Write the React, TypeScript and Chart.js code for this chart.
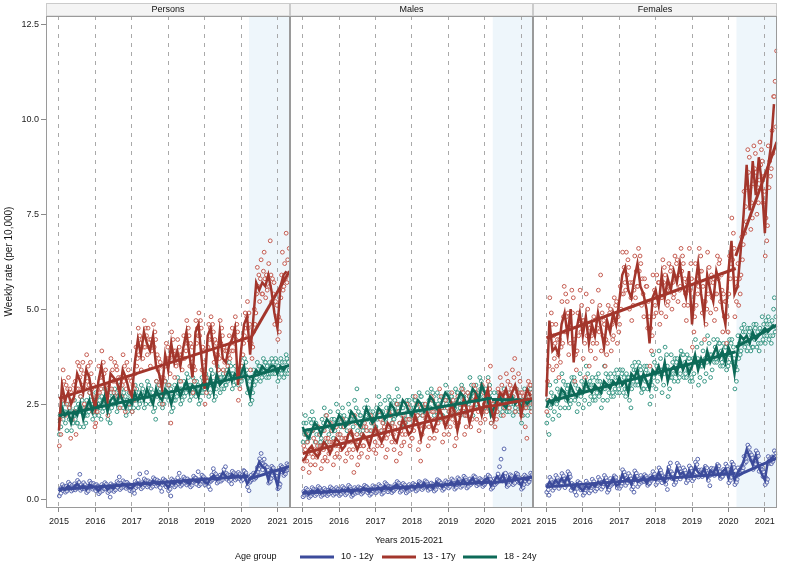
import React, { useEffect, useRef } from "react";
import { Chart, registerables } from "chart.js";

Chart.register(...registerables);
Chart.defaults.font.family = "'Liberation Sans', Arial, sans-serif";

const panelNames = ["Persons", "Males", "Females"];
const ageGroups = ["10 - 12y", "13 - 17y", "18 - 24y"];
const xTickYears = [2015, 2016, 2017, 2018, 2019, 2020, 2021];
const yTickValues = [0, 2.5, 5, 7.5, 10, 12.5];
const firstYear = 2015;
const covidStart = 2020.22;
const trendBreak = 2020.2;
const trendEnd = 2021.33;

// ---------- Persons ----------
const personsMonth1012 = [
  0.20, 0.30, 0.25, 0.35, 0.28, 0.32, 0.40, 0.30, 0.35, 0.25, 0.38, 0.33,
  0.30, 0.22, 0.30, 0.35, 0.25, 0.32, 0.28, 0.38, 0.33, 0.40, 0.36, 0.30,
  0.28, 0.38, 0.42, 0.35, 0.45, 0.40, 0.37, 0.48, 0.42, 0.38, 0.45, 0.40,
  0.30, 0.45, 0.40, 0.48, 0.42, 0.50, 0.45, 0.40, 0.52, 0.47, 0.43, 0.55,
  0.45, 0.40, 0.55, 0.62, 0.50, 0.55, 0.70, 0.60, 0.55, 0.65, 0.58, 0.62,
  0.55, 0.65, 0.40, 0.55, 0.60, 0.75, 0.98, 0.85, 0.80, 0.50, 0.78, 0.65,
  0.35, 0.80, 0.70, 0.85,
];
const personsMonth1317 = [
  1.8, 3.0, 2.6, 2.8, 2.5, 2.7, 3.3, 3.1, 2.8, 3.4, 3.2, 2.7,
  2.4, 3.1, 3.5, 3.0, 2.6, 3.3, 3.2, 3.1, 2.8, 3.4, 3.2, 2.9,
  2.7, 3.6, 4.2, 3.8, 4.4, 4.1, 3.9, 4.3, 3.5, 3.3, 2.9, 3.8,
  3.4, 4.1, 3.6, 3.9, 3.5, 4.0, 4.4, 3.8, 3.2, 4.4, 4.6, 3.7,
  2.9, 4.3, 4.5, 3.9, 3.5, 4.4, 3.7, 3.6, 4.0, 4.2, 4.5, 3.0,
  3.9, 4.6, 4.8, 3.8, 4.7, 5.7, 5.5, 5.7, 5.6, 5.9, 5.5, 4.9,
  4.5, 5.6, 5.9, 6.0,
];
const personsMonth1824 = [
  2.0, 2.4, 2.2, 2.3, 2.0, 2.3, 2.2, 2.5, 2.1, 2.4, 2.6, 2.3,
  2.6, 2.4, 2.5, 2.7, 2.3, 2.6, 2.7, 2.5, 2.8, 2.6, 2.4, 2.6,
  2.5, 2.8, 2.6, 2.8, 2.6, 2.9, 2.7, 2.5, 2.9, 2.7, 2.6, 2.9,
  2.8, 2.5, 2.8, 3.0, 2.7, 2.9, 3.1, 2.8, 3.0, 2.9, 2.7, 3.0,
  3.1, 2.9, 3.2, 2.8, 3.3, 3.0, 3.1, 3.2, 3.4, 3.1, 3.3, 3.2,
  3.3, 3.5, 3.0, 2.7, 3.2, 3.4, 3.3, 3.5, 3.4, 3.4, 3.5, 3.5,
  3.3, 3.5, 3.4, 3.5,
];
const personsWeek1012 = [
  0.08, 0.26, 0.15, 0.31, 0.38, 0.22, 0.33, 0.27, 0.18, 0.34, 0.21, 0.29, 0.44, 0.28, 0.39, 0.31, 0.21, 0.36, 0.25, 0.33, 0.40, 0.24, 0.35, 0.28, 0.49, 0.33, 0.44, 0.65, 0.23, 0.38, 0.27, 0.34, 0.43, 0.27, 0.38, 0.31, 0.17, 0.33, 0.21, 0.29, 0.47, 0.30, 0.42, 0.34, 0.26, 0.41, 0.29, 0.37,
  0.22, 0.38, 0.26, 0.34, 0.14, 0.30, 0.18, 0.27, 0.38, 0.22, 0.34, 0.27, 0.43, 0.27, 0.39, 0.31, 0.17, 0.33, 0.21, 0.05, 0.40, 0.24, 0.36, 0.29, 0.20, 0.36, 0.24, 0.32, 0.46, 0.30, 0.42, 0.58, 0.25, 0.41, 0.29, 0.37, 0.48, 0.32, 0.44, 0.36, 0.28, 0.44, 0.32, 0.40, 0.38, 0.22, 0.34, 0.27,
  0.20, 0.36, 0.24, 0.15, 0.46, 0.30, 0.42, 0.34, 0.50, 0.34, 0.66, 0.38, 0.27, 0.43, 0.31, 0.39, 0.53, 0.37, 0.49, 0.70, 0.32, 0.48, 0.36, 0.44, 0.45, 0.29, 0.41, 0.33, 0.56, 0.40, 0.52, 0.44, 0.34, 0.50, 0.38, 0.46, 0.46, 0.30, 0.42, 0.20, 0.37, 0.53, 0.41, 0.49, 0.48, 0.32, 0.44, 0.36,
  0.22, 0.38, 0.26, 0.08, 0.53, 0.37, 0.49, 0.41, 0.32, 0.48, 0.36, 0.44, 0.56, 0.40, 0.68, 0.44, 0.34, 0.50, 0.38, 0.46, 0.58, 0.42, 0.54, 0.46, 0.37, 0.53, 0.41, 0.49, 0.48, 0.32, 0.44, 0.36, 0.44, 0.60, 0.48, 0.56, 0.55, 0.39, 0.51, 0.72, 0.35, 0.51, 0.39, 0.47, 0.63, 0.47, 0.59, 0.51,
  0.37, 0.53, 0.41, 0.49, 0.48, 0.32, 0.44, 0.25, 0.47, 0.63, 0.51, 0.80, 0.70, 0.54, 0.66, 0.58, 0.42, 0.58, 0.46, 0.54, 0.63, 0.47, 0.59, 0.51, 0.62, 0.78, 0.66, 0.85, 0.68, 0.52, 0.64, 0.56, 0.47, 0.63, 0.51, 0.40, 0.73, 0.57, 0.69, 0.61, 0.50, 0.66, 0.54, 0.62, 0.70, 0.54, 0.66, 0.58,
  0.47, 0.63, 0.51, 0.75, 0.73, 0.57, 0.69, 0.61, 0.32, 0.48, 0.22, 0.44, 0.47, 0.63, 0.51, 0.59, 0.68, 0.52, 0.64, 0.56, 0.67, 0.83, 0.71, 0.79, 1.06, 0.90, 1.20, 0.94, 0.77, 0.93, 1.05, 0.89, 0.88, 0.72, 0.84, 0.76, 0.42, 0.58, 0.46, 0.54, 0.86, 0.70, 0.82, 0.74, 0.57, 0.73, 0.61, 0.69,
  0.27, 0.43, 0.31, 0.39, 0.88, 0.72, 0.84, 0.76, 0.62, 0.78, 0.66, 0.74, 0.93, 0.77, 0.89, 0.81,
];
const personsWeek1317 = [
  1.4, 2.1, 1.7, 2.3, 2.7, 3.4, 3.1, 2.6, 2.2, 3.0, 2.5, 2.9, 3.2, 2.4, 2.9, 1.6, 2.8, 2.1, 2.6, 3.0, 2.3, 3.1, 1.7, 2.9, 3.6, 2.9, 3.5, 3.2, 2.7, 3.4, 3.0, 3.6, 3.3, 2.5, 2.9, 2.4, 3.8, 3.1, 3.5, 3.0, 2.8, 3.6, 3.3, 2.9, 2.3, 3.0, 2.6, 1.9,
  2.0, 2.7, 2.3, 2.8, 3.5, 2.8, 3.2, 2.9, 3.9, 3.2, 3.6, 3.3, 2.6, 3.4, 3.0, 2.7, 2.2, 3.0, 2.5, 2.9, 3.7, 2.9, 3.4, 3.1, 2.8, 3.6, 3.1, 3.5, 3.4, 2.7, 3.2, 2.9, 2.4, 3.2, 2.7, 3.0, 3.8, 3.1, 3.5, 2.3, 2.9, 3.6, 3.2, 3.4, 2.5, 3.2, 2.8, 3.1,
  2.3, 3.0, 2.6, 2.9, 3.3, 4.0, 3.5, 3.7, 4.5, 3.8, 4.3, 4.1, 3.4, 4.2, 3.7, 4.0, 4.7, 4.0, 4.5, 4.3, 3.8, 4.5, 4.0, 4.2, 3.5, 4.2, 3.9, 4.1, 4.6, 4.0, 4.4, 4.2, 3.1, 3.8, 3.4, 3.7, 3.0, 3.6, 3.2, 3.5, 2.5, 3.2, 2.8, 3.1, 3.5, 4.1, 3.7, 4.0,
  3.0, 3.7, 3.3, 2.0, 4.4, 3.8, 4.2, 3.9, 3.2, 3.9, 3.5, 3.8, 4.2, 3.6, 4.0, 3.8, 3.1, 3.8, 3.4, 3.7, 4.3, 3.7, 4.1, 3.9, 4.7, 4.1, 4.5, 4.3, 3.5, 4.1, 3.7, 4.0, 2.8, 3.5, 3.1, 3.4, 4.7, 4.1, 4.5, 4.3, 4.9, 4.3, 4.7, 4.5, 3.4, 4.0, 3.6, 3.9,
  2.5, 3.2, 2.8, 3.1, 4.0, 4.6, 4.2, 4.5, 4.8, 4.2, 4.6, 4.4, 3.6, 4.2, 3.8, 4.1, 3.2, 3.8, 3.4, 3.7, 4.7, 4.1, 4.5, 4.3, 3.4, 4.0, 3.6, 3.9, 3.3, 3.9, 3.5, 3.8, 4.3, 3.7, 4.1, 3.9, 4.5, 3.9, 4.3, 4.1, 4.8, 4.2, 4.6, 4.4, 2.6, 3.3, 2.9, 3.2,
  3.5, 4.2, 3.8, 4.1, 4.3, 4.9, 4.5, 4.8, 5.2, 4.5, 4.9, 4.6, 3.4, 4.1, 3.7, 4.0, 4.4, 5.0, 4.6, 4.9, 5.4, 6.1, 5.6, 5.9, 5.2, 5.8, 6.3, 5.4, 5.4, 6.0, 6.5, 5.8, 5.3, 5.9, 5.5, 5.8, 6.2, 5.6, 6.8, 5.9, 5.2, 5.8, 5.4, 5.7, 4.6, 5.2, 4.8, 5.1,
  4.2, 4.8, 4.4, 4.7, 5.3, 5.9, 6.5, 5.5, 5.6, 6.2, 5.8, 7.0, 5.7, 6.3, 5.9, 6.6,
];
const personsWeek1824 = [
  1.7, 2.2, 1.9, 2.4, 2.6, 2.1, 2.5, 2.3, 2.0, 2.5, 1.8, 2.3, 2.5, 2.1, 2.4, 2.2, 1.8, 2.3, 2.0, 2.2, 2.6, 2.1, 2.4, 2.0, 2.0, 2.5, 2.3, 1.9, 2.7, 2.3, 2.6, 2.4, 1.9, 2.4, 2.2, 2.0, 2.6, 2.2, 2.5, 2.3, 2.8, 2.4, 2.7, 2.5, 2.1, 2.5, 2.3, 2.2,
  2.8, 2.3, 2.7, 2.5, 2.2, 2.6, 2.4, 2.1, 2.7, 2.3, 2.6, 2.4, 2.9, 2.5, 2.8, 2.6, 2.1, 2.5, 2.3, 2.0, 2.8, 2.4, 2.7, 2.5, 2.5, 2.9, 2.6, 2.8, 2.3, 2.7, 2.4, 2.6, 3.0, 2.6, 2.9, 2.7, 2.4, 2.8, 2.5, 2.7, 2.2, 2.6, 2.3, 2.5, 2.8, 2.4, 2.7, 2.5,
  2.3, 2.7, 2.4, 2.6, 3.0, 2.6, 2.9, 2.7, 2.4, 2.8, 2.5, 2.7, 3.0, 2.6, 2.9, 2.7, 2.4, 2.8, 2.5, 2.7, 3.1, 2.7, 3.0, 2.8, 2.5, 2.9, 2.6, 2.8, 2.3, 2.7, 2.4, 2.1, 3.1, 2.7, 3.0, 2.8, 2.5, 2.9, 2.6, 2.8, 2.4, 2.8, 2.5, 2.7, 3.1, 2.7, 3.0, 2.8,
  2.6, 3.0, 2.7, 2.9, 2.3, 2.7, 2.4, 2.6, 3.0, 2.6, 2.9, 2.7, 3.2, 2.8, 3.1, 2.9, 2.5, 2.9, 2.6, 2.8, 3.1, 2.7, 3.0, 2.8, 3.3, 2.9, 3.2, 3.0, 2.6, 3.0, 2.7, 2.9, 3.2, 2.8, 3.1, 2.9, 2.7, 3.1, 2.8, 3.0, 2.5, 2.9, 2.6, 2.8, 3.2, 2.8, 3.1, 2.9,
  2.9, 3.3, 3.0, 3.2, 3.1, 2.7, 3.0, 2.8, 3.4, 3.0, 3.3, 3.1, 2.6, 3.0, 2.7, 2.9, 3.5, 3.1, 3.4, 3.2, 2.8, 3.2, 2.9, 3.1, 3.3, 2.9, 3.2, 3.0, 3.0, 3.4, 3.1, 3.3, 3.6, 3.2, 3.5, 3.3, 2.9, 3.3, 3.0, 3.2, 3.5, 3.1, 3.4, 3.2, 3.0, 3.4, 3.1, 3.3,
  3.1, 3.5, 3.2, 3.4, 3.7, 3.3, 3.6, 3.4, 2.8, 3.2, 2.9, 3.1, 2.5, 2.9, 2.6, 2.8, 3.4, 3.0, 3.3, 3.1, 3.2, 3.6, 3.3, 3.5, 3.5, 3.1, 3.4, 3.2, 3.3, 3.7, 3.4, 3.6, 3.6, 3.2, 3.5, 3.3, 3.2, 3.6, 3.3, 3.5, 3.7, 3.3, 3.6, 3.4, 3.3, 3.7, 3.4, 3.6,
  3.1, 3.5, 3.2, 3.4, 3.7, 3.3, 3.6, 3.4, 3.2, 3.6, 3.3, 3.8, 3.7, 3.3, 3.6, 3.4,
];
const personsTrend1012 = [0.25, 0.6, 0.52, 0.86];
const personsTrend1317 = [2.65, 4.25, 4.13, 6.0];
const personsTrend1824 = [2.2, 3.25, 3.2, 3.52];

// ---------- Males ----------
const malesMonth1012 = [
  0.15, 0.20, 0.12, 0.22, 0.18, 0.25, 0.15, 0.20, 0.17, 0.24, 0.19, 0.22,
  0.18, 0.25, 0.20, 0.28, 0.15, 0.22, 0.26, 0.20, 0.30, 0.24, 0.19, 0.27,
  0.25, 0.30, 0.22, 0.35, 0.28, 0.24, 0.32, 0.38, 0.27, 0.33, 0.25, 0.30,
  0.35, 0.28, 0.40, 0.32, 0.42, 0.30, 0.36, 0.28, 0.45, 0.38, 0.32, 0.40,
  0.38, 0.45, 0.35, 0.48, 0.40, 0.52, 0.38, 0.45, 0.55, 0.42, 0.48, 0.40,
  0.50, 0.55, 0.35, 0.45, 0.60, 0.50, 0.65, 0.40, 0.58, 0.45, 0.62, 0.50,
  0.35, 0.55, 0.50, 0.60,
];
const malesMonth1317 = [
  1.0, 1.1, 1.3, 1.4, 1.2, 1.1, 1.3, 1.5, 1.4, 1.2, 1.4, 1.6,
  1.5, 1.3, 1.4, 1.7, 1.8, 1.5, 1.3, 1.5, 1.7, 1.6, 1.4, 1.7,
  1.9, 1.7, 1.5, 1.7, 2.0, 1.9, 1.6, 1.5, 1.8, 2.1, 1.9, 1.7,
  1.8, 2.2, 2.0, 1.6, 1.9, 2.3, 2.1, 1.8, 2.0, 2.4, 2.2, 1.9,
  2.1, 2.5, 2.3, 1.8, 2.2, 2.6, 2.4, 2.0, 2.3, 2.7, 2.5, 2.2,
  2.6, 2.9, 2.4, 2.1, 2.5, 2.8, 2.7, 2.9, 2.6, 2.8, 3.0, 2.7,
  2.2, 2.6, 2.9, 2.7,
];
const malesMonth1824 = [
  1.9, 1.7, 1.6, 1.8, 2.0, 1.9, 1.7, 1.9, 2.1, 2.0, 1.8, 2.0,
  2.2, 2.1, 1.9, 2.0, 2.3, 2.2, 2.0, 1.9, 2.1, 2.4, 2.2, 2.0,
  2.1, 2.4, 2.3, 2.1, 2.2, 2.5, 2.4, 2.2, 2.3, 2.6, 2.5, 2.3,
  2.2, 2.4, 2.6, 2.5, 2.3, 2.4, 2.7, 2.6, 2.4, 2.3, 2.6, 2.8,
  2.7, 2.5, 2.4, 2.6, 2.8, 2.7, 2.5, 2.6, 2.9, 2.8, 2.6, 3.0,
  2.8, 2.6, 2.2, 2.4, 2.6, 2.7, 2.5, 2.4, 2.6, 2.7, 2.5, 2.6,
  2.4, 2.6, 2.5, 2.6,
];
const malesWeek1012 = [
  0.06, 0.20, 0.10, 0.18, 0.28, 0.13, 0.24, 0.17, 0.04, 0.18, 0.08, 0.15, 0.30, 0.15, 0.26, 0.19, 0.09, 0.24, 0.13, 0.21, 0.33, 0.18, 0.29, 0.22, 0.07, 0.21, 0.11, 0.18, 0.28, 0.13, 0.24, 0.17, 0.09, 0.23, 0.13, 0.20, 0.32, 0.17, 0.28, 0.21, 0.10, 0.25, 0.14, 0.22, 0.30, 0.15, 0.26, 0.19,
  0.09, 0.24, 0.13, 0.21, 0.33, 0.18, 0.29, 0.22, 0.11, 0.26, 0.15, 0.23, 0.36, 0.21, 0.32, 0.25, 0.07, 0.21, 0.11, 0.18, 0.30, 0.15, 0.26, 0.19, 0.17, 0.32, 0.21, 0.29, 0.28, 0.13, 0.24, 0.17, 0.21, 0.36, 0.25, 0.33, 0.32, 0.17, 0.28, 0.21, 0.10, 0.25, 0.14, 0.22, 0.35, 0.20, 0.31, 0.24,
  0.16, 0.31, 0.20, 0.28, 0.38, 0.23, 0.34, 0.27, 0.13, 0.28, 0.17, 0.25, 0.43, 0.28, 0.39, 0.32, 0.19, 0.34, 0.23, 0.31, 0.32, 0.17, 0.28, 0.21, 0.23, 0.38, 0.27, 0.35, 0.46, 0.31, 0.42, 0.35, 0.18, 0.33, 0.22, 0.30, 0.41, 0.26, 0.37, 0.30, 0.16, 0.31, 0.20, 0.28, 0.38, 0.23, 0.34, 0.27,
  0.26, 0.41, 0.30, 0.38, 0.36, 0.21, 0.32, 0.25, 0.31, 0.46, 0.35, 0.43, 0.40, 0.25, 0.36, 0.29, 0.33, 0.48, 0.37, 0.45, 0.38, 0.23, 0.34, 0.27, 0.27, 0.42, 0.31, 0.39, 0.36, 0.21, 0.32, 0.25, 0.36, 0.51, 0.40, 0.48, 0.46, 0.31, 0.42, 0.35, 0.23, 0.38, 0.27, 0.35, 0.48, 0.33, 0.44, 0.37,
  0.29, 0.44, 0.33, 0.41, 0.53, 0.38, 0.49, 0.42, 0.26, 0.41, 0.30, 0.38, 0.56, 0.41, 0.52, 0.45, 0.31, 0.46, 0.35, 0.43, 0.60, 0.45, 0.56, 0.49, 0.29, 0.44, 0.33, 0.41, 0.53, 0.38, 0.49, 0.42, 0.46, 0.61, 0.50, 0.58, 0.50, 0.35, 0.46, 0.39, 0.39, 0.54, 0.43, 0.51, 0.48, 0.33, 0.44, 0.37,
  0.41, 0.56, 0.45, 0.53, 0.63, 0.48, 0.59, 0.52, 0.26, 0.41, 0.30, 0.38, 0.53, 0.38, 0.49, 0.42, 0.51, 0.66, 0.55, 0.85, 0.58, 1.05, 0.54, 0.47, 0.56, 1.32, 0.60, 0.68, 0.48, 0.33, 0.44, 0.37, 0.49, 0.64, 0.53, 0.61, 0.53, 0.38, 0.49, 0.42, 0.53, 0.68, 0.57, 0.65, 0.58, 0.43, 0.54, 0.47,
  0.26, 0.41, 0.30, 0.38, 0.63, 0.48, 0.59, 0.52, 0.41, 0.56, 0.45, 0.53, 0.68, 0.53, 0.64, 0.57,
];
const malesWeek1317 = [
  0.8, 1.4, 1.0, 1.3, 1.7, 1.0, 1.5, 1.2, 0.7, 1.3, 0.9, 1.2, 1.8, 1.1, 1.6, 1.3, 0.9, 1.5, 1.1, 1.4, 1.9, 1.2, 1.7, 1.4, 0.8, 1.4, 1.0, 1.3, 1.8, 1.1, 1.6, 2.2, 1.0, 1.6, 1.2, 1.5, 2.0, 1.3, 1.8, 1.5, 0.9, 1.5, 1.1, 1.4, 1.9, 1.2, 1.7, 1.4,
  1.1, 1.7, 1.3, 1.6, 2.1, 1.4, 1.9, 1.6, 1.0, 1.6, 1.2, 1.5, 2.0, 1.3, 1.8, 1.5, 1.1, 1.7, 1.3, 0.7, 2.2, 1.5, 2.0, 1.7, 0.9, 1.5, 1.1, 1.4, 1.9, 1.2, 1.7, 1.4, 1.4, 2.0, 1.6, 1.9, 1.8, 1.1, 1.6, 1.3, 1.6, 2.2, 1.8, 2.1, 2.0, 1.3, 1.8, 1.5,
  1.2, 1.8, 1.4, 1.7, 2.3, 1.6, 2.1, 1.8, 1.4, 2.0, 1.6, 1.9, 1.8, 1.1, 1.6, 1.3, 1.7, 2.3, 1.9, 2.2, 2.2, 1.5, 2.0, 1.7, 1.3, 1.9, 1.5, 1.0, 2.5, 1.8, 2.3, 2.0, 1.2, 1.8, 1.4, 1.7, 2.2, 1.5, 2.0, 1.7, 1.9, 2.5, 2.1, 2.4, 2.1, 1.4, 1.9, 1.6,
  1.6, 2.2, 1.8, 2.1, 2.7, 2.0, 2.5, 2.2, 1.3, 1.9, 1.5, 1.0, 2.4, 1.7, 2.2, 1.9, 1.9, 2.5, 2.1, 2.4, 2.1, 1.4, 1.9, 1.6, 2.1, 2.7, 2.3, 2.6, 2.3, 1.6, 2.1, 1.8, 1.8, 2.4, 2.0, 2.3, 2.9, 2.2, 2.7, 2.4, 1.5, 2.1, 1.7, 2.0, 2.6, 1.9, 2.4, 2.1,
  1.7, 2.3, 1.9, 2.2, 2.8, 2.1, 2.6, 2.3, 1.4, 2.0, 1.6, 1.9, 2.7, 2.0, 2.5, 2.2, 2.3, 2.9, 2.5, 2.8, 2.4, 1.7, 2.2, 1.9, 2.2, 2.8, 2.4, 2.7, 2.6, 1.9, 2.4, 2.1, 2.4, 3.0, 2.6, 2.9, 2.8, 2.1, 2.6, 2.3, 1.8, 2.4, 2.0, 2.3, 3.0, 2.3, 2.8, 2.5,
  2.1, 2.7, 2.3, 2.6, 3.1, 2.4, 2.9, 3.5, 2.0, 2.6, 2.2, 2.5, 2.6, 1.9, 2.4, 2.1, 2.3, 2.9, 2.5, 2.8, 3.2, 2.5, 3.0, 2.7, 2.2, 2.8, 2.4, 2.7, 3.3, 2.6, 3.1, 2.8, 2.4, 3.0, 2.6, 2.9, 3.4, 2.7, 3.2, 3.7, 2.3, 2.9, 2.5, 2.8, 3.3, 2.6, 3.1, 2.8,
  2.2, 2.8, 2.4, 2.7, 2.6, 1.9, 2.4, 1.6, 2.5, 3.1, 2.7, 3.0, 3.0, 2.3, 2.8, 2.5,
];
const malesWeek1824 = [
  1.5, 2.0, 1.7, 2.2, 2.0, 1.5, 1.8, 1.6, 1.6, 2.1, 1.8, 2.0, 2.3, 1.8, 2.1, 1.9, 1.5, 2.0, 1.7, 1.9, 1.9, 1.4, 1.7, 1.5, 1.6, 2.1, 1.8, 2.0, 2.4, 1.9, 2.2, 2.0, 1.5, 2.0, 1.7, 1.9, 2.3, 1.8, 2.1, 1.9, 1.6, 2.1, 1.8, 2.0, 2.5, 2.0, 2.3, 2.1,
  1.7, 2.2, 1.9, 2.1, 2.4, 1.9, 2.2, 2.0, 1.6, 2.1, 1.8, 2.0, 2.5, 2.0, 2.3, 2.1, 1.7, 2.2, 1.9, 2.1, 2.6, 2.1, 2.4, 2.9, 1.8, 2.3, 2.0, 2.2, 2.2, 1.7, 2.0, 1.8, 1.9, 2.4, 2.1, 2.3, 2.6, 2.1, 2.4, 2.2, 1.8, 2.3, 2.0, 2.2, 2.3, 1.8, 2.1, 1.9,
  1.9, 2.4, 2.1, 2.3, 2.7, 2.2, 2.5, 2.3, 1.8, 2.3, 2.0, 2.2, 2.6, 2.1, 2.4, 2.2, 2.2, 2.7, 2.4, 2.6, 2.5, 2.0, 2.3, 2.1, 2.1, 2.6, 2.3, 2.5, 2.9, 2.4, 2.7, 2.5, 2.0, 2.5, 2.2, 2.4, 2.4, 1.9, 2.2, 2.0, 2.1, 2.6, 2.3, 2.5, 2.6, 2.1, 2.4, 2.2,
  2.2, 2.7, 2.4, 2.6, 2.6, 2.1, 2.4, 2.2, 2.3, 2.8, 2.5, 2.7, 2.7, 2.2, 2.5, 2.3, 1.9, 2.4, 2.1, 2.3, 2.8, 2.3, 2.6, 2.4, 2.4, 2.9, 2.6, 2.8, 2.7, 2.2, 2.5, 2.3, 2.3, 2.8, 2.5, 2.7, 2.6, 2.1, 2.4, 2.2, 2.2, 2.7, 2.4, 2.6, 3.0, 2.5, 2.8, 2.6,
  2.3, 2.8, 2.5, 2.7, 2.7, 2.2, 2.5, 2.3, 2.4, 2.9, 2.6, 2.8, 2.8, 2.3, 2.6, 2.4, 2.5, 3.0, 2.7, 2.9, 2.7, 2.2, 2.5, 2.3, 2.3, 2.8, 2.5, 2.7, 3.2, 2.7, 3.0, 2.8, 2.2, 2.7, 2.4, 2.6, 3.0, 2.5, 2.8, 2.6, 2.7, 3.2, 2.9, 3.1, 2.9, 2.4, 2.7, 2.5,
  2.4, 2.9, 2.6, 2.8, 3.2, 2.7, 3.0, 2.8, 2.0, 2.5, 2.2, 2.4, 2.8, 2.3, 2.6, 2.4, 2.3, 2.8, 2.5, 2.7, 2.7, 2.2, 2.5, 2.3, 2.4, 2.9, 2.6, 2.8, 2.8, 2.3, 2.6, 2.4, 2.3, 2.8, 2.5, 2.7, 2.7, 2.2, 2.5, 2.3, 2.4, 2.9, 2.6, 2.8, 2.8, 2.3, 2.6, 2.4,
  2.0, 2.5, 2.2, 2.4, 2.9, 2.4, 2.7, 2.5, 2.2, 2.7, 2.4, 2.6, 2.9, 2.4, 2.7, 2.5,
];
const malesTrend1012 = [0.15, 0.45, 0.42, 0.58];
const malesTrend1317 = [1.2, 2.47, 2.45, 2.65];
const malesTrend1824 = [1.8, 2.66, 2.62, 2.6];

// ---------- Females ----------
const femalesMonth1012 = [
  0.30, 0.45, 0.35, 0.50, 0.40, 0.55, 0.42, 0.60, 0.35, 0.25, 0.40, 0.30,
  0.22, 0.35, 0.28, 0.40, 0.33, 0.45, 0.38, 0.50, 0.30, 0.42, 0.55, 0.35,
  0.40, 0.65, 0.48, 0.55, 0.38, 0.62, 0.45, 0.50, 0.58, 0.42, 0.55, 0.60,
  0.50, 0.70, 0.55, 0.45, 0.78, 0.60, 0.50, 0.82, 0.65, 0.70, 0.55, 0.75,
  0.60, 0.85, 0.70, 0.65, 0.80, 0.55, 0.75, 0.68, 0.85, 0.60, 0.72, 0.80,
  0.55, 0.85, 0.50, 0.70, 0.80, 1.00, 1.30, 1.10, 0.90, 1.15, 0.85, 0.65,
  0.50, 1.00, 1.05, 1.15,
];
const femalesMonth1317 = [
  2.7, 4.7, 3.9, 4.0, 3.8, 4.6, 4.9, 4.3, 5.0, 3.6, 4.5, 4.9,
  4.3, 4.8, 4.1, 4.6, 4.3, 4.9, 4.5, 4.0, 4.7, 4.4, 4.9, 4.6,
  5.2, 5.9, 6.1, 5.5, 5.3, 5.8, 6.2, 5.6, 5.4, 5.0, 4.1, 5.3,
  5.5, 5.1, 5.9, 5.3, 5.8, 5.5, 6.0, 5.7, 6.2, 5.6, 5.3, 6.0,
  4.6, 5.6, 6.2, 5.4, 4.8, 5.9, 5.5, 5.2, 6.0, 5.7, 5.0, 4.6,
  6.0, 6.8, 5.4, 5.6, 6.5, 7.5, 8.8, 7.6, 8.9, 8.0, 9.0, 8.3,
  7.0, 8.7, 9.3, 10.4,
];
const femalesMonth1824 = [
  2.4, 2.6, 2.5, 2.7, 2.6, 2.9, 2.8, 2.6, 3.0, 2.8, 2.7, 2.9,
  2.8, 3.1, 2.9, 2.8, 3.0, 2.9, 2.8, 3.1, 3.0, 2.9, 3.1, 3.0,
  3.2, 3.0, 3.1, 2.8, 3.3, 3.2, 3.4, 3.0, 3.3, 3.1, 2.9, 3.4,
  3.3, 3.5, 3.2, 3.6, 3.1, 3.4, 3.5, 3.3, 3.7, 3.4, 3.6, 3.3,
  3.5, 3.8, 3.4, 3.7, 3.5, 3.9, 3.6, 3.8, 4.0, 3.7, 3.9, 3.6,
  4.0, 3.8, 3.3, 3.9, 4.3, 4.2, 4.3, 4.1, 4.4, 4.2, 4.3, 4.4,
  4.5, 4.4, 4.5, 4.6,
];
const femalesWeek1012 = [
  0.18, 0.36, 0.24, 0.10, 0.57, 0.39, 0.51, 0.43, 0.23, 0.41, 0.29, 0.37, 0.62, 0.44, 0.56, 0.48, 0.28, 0.46, 0.34, 0.42, 0.67, 0.49, 0.61, 0.53, 0.30, 0.48, 0.36, 0.44, 0.72, 0.54, 0.66, 0.58, 0.23, 0.41, 0.29, 0.37, 0.37, 0.19, 0.31, 0.10, 0.28, 0.46, 0.34, 0.42, 0.42, 0.24, 0.36, 0.28,
  0.10, 0.28, 0.16, 0.24, 0.47, 0.29, 0.41, 0.33, 0.16, 0.34, 0.22, 0.30, 0.52, 0.34, 0.46, 0.38, 0.21, 0.39, 0.27, 0.35, 0.57, 0.39, 0.51, 0.43, 0.26, 0.44, 0.32, 0.40, 0.62, 0.44, 0.56, 0.48, 0.18, 0.36, 0.24, 0.32, 0.54, 0.36, 0.48, 0.40, 0.43, 0.61, 0.49, 0.57, 0.47, 0.29, 0.41, 0.33,
  0.28, 0.46, 0.34, 0.42, 0.77, 0.59, 0.71, 0.63, 0.36, 0.54, 0.42, 0.50, 0.67, 0.49, 0.61, 0.53, 0.26, 0.44, 0.32, 0.18, 0.74, 0.56, 0.68, 0.60, 0.33, 0.51, 0.39, 0.47, 0.62, 0.44, 0.56, 0.48, 0.46, 0.64, 0.52, 0.60, 0.54, 0.36, 0.48, 0.40, 0.43, 0.61, 0.49, 0.57, 0.72, 0.54, 0.66, 0.58,
  0.38, 0.56, 0.44, 0.52, 0.82, 0.64, 0.76, 0.68, 0.43, 0.61, 0.49, 0.57, 0.57, 0.39, 0.51, 0.25, 0.66, 0.84, 0.72, 0.95, 0.72, 0.54, 0.66, 0.58, 0.38, 0.56, 0.44, 0.52, 0.94, 0.76, 0.88, 0.80, 0.53, 0.71, 0.59, 0.67, 0.82, 0.64, 0.76, 0.68, 0.43, 0.61, 0.49, 0.57, 0.87, 0.69, 0.81, 0.73,
  0.48, 0.66, 0.54, 0.62, 0.97, 0.79, 0.91, 1.05, 0.58, 0.76, 0.64, 0.72, 0.77, 0.59, 0.71, 0.63, 0.68, 0.86, 0.74, 0.82, 0.67, 0.49, 0.61, 0.35, 0.63, 0.81, 0.69, 0.77, 0.80, 0.62, 0.74, 0.66, 0.73, 0.91, 0.79, 0.87, 0.72, 0.54, 0.66, 0.58, 0.60, 0.78, 0.66, 0.74, 0.92, 0.74, 0.86, 0.78,
  0.43, 0.61, 0.49, 0.57, 0.97, 0.79, 0.91, 0.83, 0.38, 0.56, 0.44, 0.52, 0.82, 0.64, 0.76, 0.68, 0.68, 0.86, 0.74, 0.82, 1.12, 0.94, 1.06, 0.98, 1.18, 1.42, 1.24, 1.36, 1.22, 1.04, 1.16, 1.08, 0.78, 0.96, 0.84, 0.92, 1.27, 1.09, 1.21, 1.13, 0.73, 0.91, 0.79, 0.87, 0.77, 0.59, 0.71, 0.63,
  0.38, 0.56, 0.44, 0.52, 1.12, 0.94, 1.06, 0.98, 0.93, 1.11, 0.99, 1.07, 1.27, 1.09, 1.21, 1.13,
];
const femalesWeek1317 = [
  2.3, 3.1, 2.6, 3.5, 5.3, 4.3, 4.9, 4.6, 3.4, 4.3, 3.7, 4.1, 4.6, 3.5, 4.2, 3.8, 3.2, 4.2, 3.6, 4.0, 5.2, 4.1, 4.8, 5.6, 4.4, 5.4, 4.8, 5.2, 4.9, 3.8, 4.5, 4.1, 4.5, 5.5, 4.9, 5.3, 4.2, 3.1, 3.8, 3.4, 3.9, 4.9, 4.3, 4.7, 5.5, 4.4, 5.1, 4.7,
  3.7, 4.7, 4.1, 3.2, 5.4, 4.3, 5.0, 4.6, 3.5, 4.5, 3.9, 4.3, 5.2, 4.1, 4.8, 4.4, 3.7, 4.7, 4.1, 4.5, 5.5, 4.4, 5.1, 5.9, 3.9, 4.9, 4.3, 4.7, 4.6, 3.5, 4.2, 3.8, 4.1, 5.1, 4.5, 4.9, 5.0, 3.9, 4.6, 4.2, 4.3, 5.3, 4.7, 5.1, 5.2, 4.1, 4.8, 4.4,
  4.6, 5.6, 5.0, 5.4, 6.5, 5.4, 6.1, 5.7, 5.5, 6.5, 5.9, 6.3, 6.1, 5.0, 5.7, 5.3, 4.7, 5.7, 5.1, 5.5, 6.4, 5.3, 6.0, 5.6, 5.6, 6.6, 6.0, 6.4, 6.2, 5.1, 5.8, 5.4, 4.8, 5.8, 5.2, 5.6, 5.6, 4.5, 5.2, 4.8, 3.5, 4.5, 3.9, 4.3, 5.9, 4.8, 5.5, 5.1,
  4.9, 5.9, 5.3, 5.7, 5.7, 4.6, 5.3, 4.9, 5.3, 6.3, 5.7, 6.1, 5.9, 4.8, 5.5, 5.1, 5.2, 6.2, 5.6, 6.0, 6.1, 5.0, 5.7, 5.3, 5.4, 6.4, 5.8, 6.2, 6.3, 5.2, 5.9, 5.5, 5.6, 6.6, 6.0, 6.4, 6.2, 5.1, 5.8, 5.4, 4.7, 5.7, 5.1, 5.5, 6.6, 5.5, 6.2, 5.8,
  4.0, 5.0, 4.4, 4.8, 6.2, 5.1, 5.8, 5.4, 5.6, 6.6, 6.0, 6.4, 6.0, 4.9, 5.6, 5.2, 4.2, 5.2, 4.6, 5.0, 6.5, 5.4, 6.1, 5.7, 4.9, 5.9, 5.3, 5.7, 5.8, 4.7, 5.4, 5.0, 5.4, 6.4, 5.8, 6.2, 6.3, 5.2, 5.9, 5.5, 4.4, 5.4, 4.8, 5.2, 5.2, 4.1, 4.8, 4.4,
  5.4, 6.4, 5.8, 6.2, 7.4, 6.3, 7.0, 6.6, 4.8, 5.8, 5.2, 5.6, 6.2, 5.1, 5.8, 5.4, 5.9, 6.9, 6.3, 6.7, 8.1, 7.0, 7.7, 7.3, 8.2, 9.2, 8.6, 9.0, 8.2, 7.1, 7.8, 7.4, 8.3, 9.3, 8.7, 9.1, 8.6, 7.5, 8.2, 7.8, 8.4, 9.4, 8.8, 9.2, 8.9, 7.8, 8.5, 8.1,
  6.4, 7.4, 6.8, 7.2, 9.3, 8.2, 8.9, 8.5, 8.7, 9.7, 9.1, 10.6, 10.6, 11.0, 9.8, 11.8,
];
const femalesWeek1824 = [
  2.0, 2.6, 2.2, 1.7, 3.0, 2.4, 2.8, 2.5, 2.1, 2.7, 2.3, 2.6, 3.1, 2.5, 2.9, 2.6, 2.2, 2.8, 2.4, 2.7, 3.3, 2.7, 3.1, 2.8, 2.4, 3.0, 2.6, 2.9, 3.0, 2.4, 2.8, 2.5, 2.6, 3.2, 2.8, 3.1, 3.2, 2.6, 3.0, 2.7, 2.3, 2.9, 2.5, 2.8, 3.3, 2.7, 3.1, 2.8,
  2.4, 3.0, 2.6, 2.9, 3.5, 2.9, 3.3, 3.0, 2.5, 3.1, 2.7, 3.0, 3.2, 2.6, 3.0, 2.7, 2.6, 3.2, 2.8, 3.1, 3.3, 2.7, 3.1, 2.8, 2.4, 3.0, 2.6, 2.9, 3.5, 2.9, 3.3, 3.0, 2.6, 3.2, 2.8, 3.1, 3.3, 2.7, 3.1, 2.8, 2.7, 3.3, 2.9, 3.2, 3.4, 2.8, 3.2, 2.9,
  2.8, 3.4, 3.0, 3.3, 3.4, 2.8, 3.2, 2.9, 2.7, 3.3, 2.9, 3.2, 3.2, 2.6, 3.0, 2.4, 2.9, 3.5, 3.1, 3.4, 3.6, 3.0, 3.4, 3.1, 3.0, 3.6, 3.2, 3.5, 3.4, 2.8, 3.2, 2.9, 2.9, 3.5, 3.1, 3.4, 3.5, 2.9, 3.3, 3.0, 2.5, 3.1, 2.7, 3.0, 3.8, 3.2, 3.6, 3.3,
  2.9, 3.5, 3.1, 3.4, 3.9, 3.3, 3.7, 3.4, 2.8, 3.4, 3.0, 3.3, 4.0, 3.4, 3.8, 3.5, 2.7, 3.3, 2.9, 3.2, 3.8, 3.2, 3.6, 3.3, 3.1, 3.7, 3.3, 3.6, 3.7, 3.1, 3.5, 3.2, 3.3, 3.9, 3.5, 3.8, 3.8, 3.2, 3.6, 3.3, 3.2, 3.8, 3.4, 3.7, 3.7, 3.1, 3.5, 3.2,
  3.1, 3.7, 3.3, 3.6, 4.2, 3.6, 4.0, 3.7, 3.0, 3.6, 3.2, 3.5, 4.1, 3.5, 3.9, 3.6, 3.1, 3.7, 3.3, 3.6, 4.3, 3.7, 4.1, 3.8, 3.2, 3.8, 3.4, 3.7, 4.2, 3.6, 4.0, 3.7, 3.6, 4.2, 3.8, 4.1, 4.1, 3.5, 3.9, 3.6, 3.5, 4.1, 3.7, 4.0, 4.0, 3.4, 3.8, 3.5,
  3.6, 4.2, 3.8, 4.1, 4.2, 3.6, 4.0, 3.7, 2.9, 3.5, 3.1, 3.4, 4.3, 3.7, 4.1, 3.8, 3.9, 4.5, 4.1, 4.4, 4.6, 4.0, 4.4, 4.1, 3.9, 4.5, 4.1, 4.4, 4.5, 3.9, 4.3, 4.0, 4.0, 4.6, 4.2, 4.5, 4.6, 4.0, 4.4, 4.1, 3.9, 4.5, 4.1, 4.4, 4.8, 4.2, 4.6, 4.3,
  4.1, 4.7, 4.3, 4.6, 4.8, 4.2, 4.6, 4.3, 4.1, 4.7, 4.3, 5.0, 5.3, 4.4, 4.8, 4.5,
];
const femalesTrend1012 = [0.32, 0.68, 0.6, 1.08];
const femalesTrend1317 = [4.24, 6.07, 6.4, 9.4];
const femalesTrend1824 = [2.55, 3.88, 4.0, 4.58];

const lineColors = ["#3c4b9b", "#a3362c", "#0d6a58"];
const pointColors = ["#5a68ae", "#c45c51", "#3a9886"];

function monthX(i: number) {
  return firstYear + i / 12;
}
function weekX(i: number) {
  return firstYear + (Math.floor(i / 4) + ((i % 4) + 0.5) / 4) / 12;
}

const X_MIN = 2014.644;
const X_MAX = 2021.337;

export default function App() {
  const ref = useRef<HTMLCanvasElement>(null);

  useEffect(() => {
    const panelData = [
      {
        weeks: [personsWeek1012, personsWeek1317, personsWeek1824],
        months: [personsMonth1012, personsMonth1317, personsMonth1824],
        trends: [personsTrend1012, personsTrend1317, personsTrend1824],
      },
      {
        weeks: [malesWeek1012, malesWeek1317, malesWeek1824],
        months: [malesMonth1012, malesMonth1317, malesMonth1824],
        trends: [malesTrend1012, malesTrend1317, malesTrend1824],
      },
      {
        weeks: [femalesWeek1012, femalesWeek1317, femalesWeek1824],
        months: [femalesMonth1012, femalesMonth1317, femalesMonth1824],
        trends: [femalesTrend1012, femalesTrend1317, femalesTrend1824],
      },
    ];

    const datasets: any[] = [];
    panelData.forEach((pd, p) => {
      const xAxisID = "x" + p;
      for (let g = 0; g < 3; g++) {
        datasets.push({
          type: "line",
          xAxisID,
          yAxisID: "y",
          data: pd.weeks[g].map((v, i) => ({ x: weekX(i), y: v })),
          showLine: false,
          pointRadius: 1.9,
          pointBorderWidth: 1,
          pointBorderColor: pointColors[g],
          pointBackgroundColor: "rgba(255,255,255,0.5)",
          order: 3,
        });
        datasets.push({
          type: "line",
          xAxisID,
          yAxisID: "y",
          data: pd.months[g].map((v, i) => ({ x: monthX(i), y: v })),
          borderColor: lineColors[g],
          borderWidth: 2.5,
          pointRadius: 0,
          tension: 0,
          fill: false,
          order: 2,
        });
        const t = pd.trends[g];
        datasets.push({
          type: "line",
          xAxisID,
          yAxisID: "y",
          data: [
            { x: firstYear, y: t[0] },
            { x: trendBreak, y: t[1] },
          ],
          borderColor: lineColors[g],
          borderWidth: 3,
          pointRadius: 0,
          fill: false,
          order: 1,
        });
        datasets.push({
          type: "line",
          xAxisID,
          yAxisID: "y",
          data: [
            { x: trendBreak, y: t[2] },
            { x: trendEnd, y: t[3] },
          ],
          borderColor: lineColors[g],
          borderWidth: 3,
          pointRadius: 0,
          fill: false,
          order: 1,
        });
      }
    });

    const xScale = () => ({
      type: "linear",
      position: "bottom",
      stack: "panels",
      stackWeight: 1,
      min: X_MIN,
      max: X_MAX,
      afterBuildTicks: (s: any) => {
        s.ticks = xTickYears.map((v) => ({ value: v }));
      },
      afterFit: (s: any) => {
        s.height = 61;
      },
      grid: {
        display: true,
        drawOnChartArea: true,
        drawTicks: true,
        tickLength: 5,
        color: "rgba(160,160,160,0.9)",
        tickColor: "#8a8a8a",
        lineWidth: 1,
      },
      border: { display: false, dash: [4, 5] },
      ticks: {
        autoSkip: false,
        maxRotation: 0,
        minRotation: 0,
        padding: 4,
        color: "#222",
        font: { size: 9 },
        callback: (v: any) => String(v),
      },
    });

    const panelPlugin = {
      id: "panelDecor",
      beforeDraw(chart: any) {
        const { ctx, chartArea } = chart;
        ctx.save();
        ctx.fillStyle = "#eef6fb";
        ["x0", "x1", "x2"].forEach((id) => {
          const s = chart.scales[id];
          const a = s.getPixelForValue(covidStart);
          ctx.fillRect(a, chartArea.top, s.right - a, chartArea.bottom - chartArea.top);
        });
        ctx.restore();
      },
      afterDraw(chart: any) {
        const { ctx, chartArea } = chart;
        ctx.save();
        const top = chartArea.top;
        const bottom = chartArea.bottom;
        ["x0", "x1", "x2"].forEach((id, p) => {
          const s = chart.scales[id];
          const l = Math.round(s.left) + 0.5;
          const r = Math.round(s.right) - 0.5;
          ctx.fillStyle = "#f4f4f4";
          ctx.fillRect(l, 3, r - l, top - 3);
          ctx.strokeStyle = "#cbcbcb";
          ctx.lineWidth = 1;
          ctx.strokeRect(l, 3.5, r - l, top - 3.5);
          ctx.fillStyle = "#111";
          ctx.font = "9px 'Liberation Sans', Arial, sans-serif";
          ctx.textAlign = "center";
          ctx.textBaseline = "middle";
          ctx.fillText(panelNames[p], (l + r) / 2, (3 + top) / 2 + 0.5);
          ctx.strokeStyle = "#9a9a9a";
          ctx.strokeRect(l, Math.round(top) + 0.5, r - l, Math.round(bottom) - Math.round(top));
        });
        ctx.fillStyle = "#111";
        ctx.font = "9px 'Liberation Sans', Arial, sans-serif";
        ctx.textAlign = "center";
        ctx.textBaseline = "middle";
        ctx.fillText("Years 2015-2021", 409, 541);
        ctx.save();
        ctx.translate(9, (top + bottom) / 2);
        ctx.rotate(-Math.PI / 2);
        ctx.font = "10px 'Liberation Sans', Arial, sans-serif";
        ctx.fillText("Weekly rate (per 10,000)", 0, 0);
        ctx.restore();
        const ly = 557;
        ctx.textAlign = "left";
        ctx.font = "9px 'Liberation Sans', Arial, sans-serif";
        ctx.fillText("Age group", 235, ly);
        const lineStarts = [300, 382, 463];
        ageGroups.forEach((name, g) => {
          const x0 = lineStarts[g];
          ctx.strokeStyle = lineColors[g];
          ctx.lineWidth = 3;
          ctx.beginPath();
          ctx.moveTo(x0, ly);
          ctx.lineTo(x0 + 34, ly);
          ctx.stroke();
          ctx.fillStyle = "#111";
          ctx.fillText(name, x0 + 41, ly);
        });
        ctx.restore();
      },
    };

    const chart = new Chart(ref.current as HTMLCanvasElement, {
      type: "line",
      data: { datasets },
      options: {
        animation: false,
        responsive: false,
        maintainAspectRatio: false,
        events: [],
        layout: { padding: { left: 0, right: 6, top: 16, bottom: 0 } },
        plugins: { legend: { display: false }, tooltip: { enabled: false } },
        scales: {
          y: {
            type: "linear",
            position: "left",
            min: -0.21,
            max: 12.72,
            afterBuildTicks: (s: any) => {
              s.ticks = yTickValues.map((v) => ({ value: v }));
            },
            afterFit: (s: any) => {
              s.width = 46;
            },
            grid: {
              drawOnChartArea: false,
              drawTicks: true,
              tickLength: 5,
              tickColor: "#8a8a8a",
            },
            border: { display: false },
            ticks: {
              padding: 2,
              color: "#222",
              font: { size: 9 },
              callback: (v: any) => Number(v).toFixed(1),
            },
          },
          x0: xScale(),
          x1: xScale(),
          x2: xScale(),
        } as any,
      },
      plugins: [panelPlugin],
    } as any);

    return () => chart.destroy();
  }, []);

  return (
    <div style={{ position: "absolute", left: 0, top: 0, width: 785, height: 568 }}>
      <canvas ref={ref} width={785} height={568} style={{ display: "block" }} />
    </div>
  );
}
